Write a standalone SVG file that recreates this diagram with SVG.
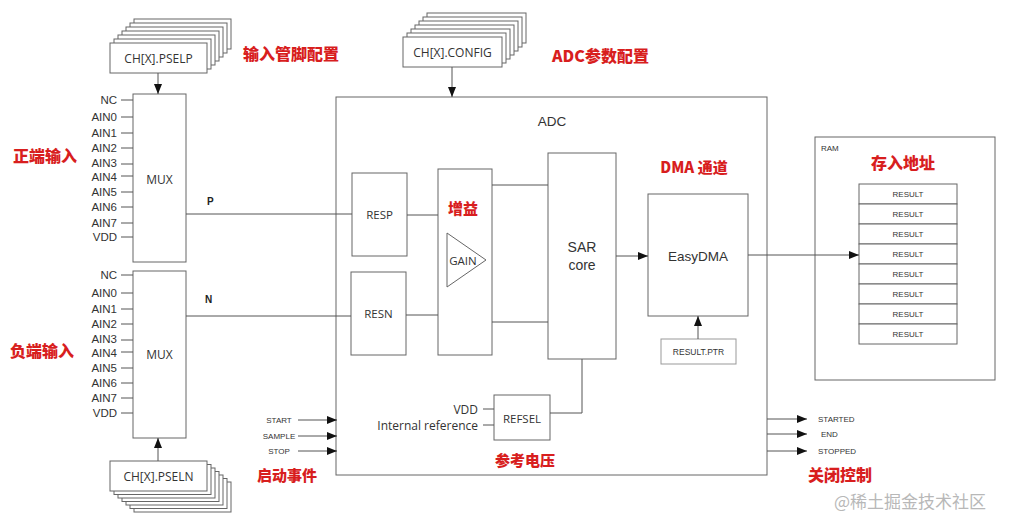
<svg xmlns="http://www.w3.org/2000/svg" width="1012" height="528" viewBox="0 0 1012 528">
<style>
  .bx{fill:#fff;stroke:#666;stroke-width:1}
  .ln{fill:none;stroke:#555;stroke-width:1}
  .ar{fill:none;stroke:#555;stroke-width:1;marker-end:url(#ah)}
  .t{font-family:"Open Sans","Liberation Sans",sans-serif;fill:#333;dominant-baseline:central}
  .s{font-family:"Liberation Sans",Arial,sans-serif;fill:#333;dominant-baseline:central}
  .r{font-family:"Noto Sans CJK SC","Liberation Sans",sans-serif;fill:#d81e1e;font-weight:900;font-size:16px;dominant-baseline:central}
  .pin{font-family:"Liberation Sans",Arial,sans-serif;fill:#333;dominant-baseline:central;font-size:11.5px;text-anchor:end}
  .res{font-size:8px;text-anchor:middle}
  .ev{font-size:8px}
</style>
<defs>
  <marker id="ah" markerUnits="userSpaceOnUse" markerWidth="11" markerHeight="9" refX="10" refY="4" orient="auto">
    <path d="M0,0 L10,4 L0,8 z" fill="#111"/>
  </marker>
</defs>
<rect width="1012" height="528" fill="#fff"/>

<!-- CH[X].PSELP stack -->
<g id="pselp">
  <rect class="bx" x="134" y="19" width="97" height="30"/>
  <rect class="bx" x="130" y="23" width="97" height="30"/>
  <rect class="bx" x="126" y="27" width="97" height="30"/>
  <rect class="bx" x="122" y="31" width="97" height="30"/>
  <rect class="bx" x="118" y="35" width="97" height="30"/>
  <rect class="bx" x="114" y="39" width="97" height="30"/>
  <rect class="bx" x="110" y="43" width="97" height="30"/>
  <text class="t" x="158.5" y="58" font-size="12" text-anchor="middle">CH[X].PSELP</text>
</g>
<text class="r" x="243" y="53">输入管脚配置</text>

<!-- CH[X].CONFIG stack -->
<g id="config">
  <rect class="bx" x="427" y="13" width="99" height="30"/>
  <rect class="bx" x="423" y="17" width="99" height="30"/>
  <rect class="bx" x="419" y="21" width="99" height="30"/>
  <rect class="bx" x="415" y="25" width="99" height="30"/>
  <rect class="bx" x="411" y="29" width="99" height="30"/>
  <rect class="bx" x="407" y="33" width="99" height="30"/>
  <rect class="bx" x="403" y="37" width="99" height="30"/>
  <text class="t" x="452.5" y="52" font-size="12" text-anchor="middle">CH[X].CONFIG</text>
</g>
<text class="r" x="552" y="55">ADC参数配置</text>

<!-- MUX P -->
<g id="muxp">
  <rect class="bx" x="133" y="94" width="53" height="168"/>
  <text class="t" x="159.5" y="179" font-size="12" text-anchor="middle">MUX</text>
  <g class="ln">
    <path d="M121,100H133M121,117H133M121,133H133M121,148H133M121,164H133M121,176H133M121,192H133M121,207H133M121,223H133M121,237H133"/>
  </g>
  <g class="pin">
    <text x="117" y="100">NC</text>
    <text x="117" y="117">AIN0</text>
    <text x="117" y="133">AIN1</text>
    <text x="117" y="148">AIN2</text>
    <text x="117" y="163">AIN3</text>
    <text x="117" y="177">AIN4</text>
    <text x="117" y="192">AIN5</text>
    <text x="117" y="207">AIN6</text>
    <text x="117" y="223">AIN7</text>
    <text x="117" y="237">VDD</text>
  </g>
</g>
<text class="r" x="13" y="155">正端输入</text>

<!-- MUX N -->
<g id="muxn">
  <rect class="bx" x="133" y="271" width="53" height="167"/>
  <text class="t" x="159.5" y="354" font-size="12" text-anchor="middle">MUX</text>
  <g class="ln">
    <path d="M121,275H133M121,293H133M121,309H133M121,324H133M121,340H133M121,352H133M121,368H133M121,383H133M121,398H133M121,413H133"/>
  </g>
  <g class="pin">
    <text x="117" y="275">NC</text>
    <text x="117" y="293">AIN0</text>
    <text x="117" y="309">AIN1</text>
    <text x="117" y="324">AIN2</text>
    <text x="117" y="339">AIN3</text>
    <text x="117" y="353">AIN4</text>
    <text x="117" y="368">AIN5</text>
    <text x="117" y="383">AIN6</text>
    <text x="117" y="398">AIN7</text>
    <text x="117" y="413">VDD</text>
  </g>
</g>
<text class="r" x="10" y="350">负端输入</text>

<!-- CH[X].PSELN stack -->
<g id="pseln">
  <rect class="bx" x="134" y="482" width="97" height="30"/>
  <rect class="bx" x="130" y="478.5" width="97" height="30"/>
  <rect class="bx" x="126" y="475" width="97" height="30"/>
  <rect class="bx" x="122" y="471.5" width="97" height="30"/>
  <rect class="bx" x="118" y="468" width="97" height="30"/>
  <rect class="bx" x="114" y="464.5" width="97" height="30"/>
  <rect class="bx" x="110" y="461" width="97" height="30"/>
  <text class="t" x="158.5" y="476" font-size="12" text-anchor="middle">CH[X].PSELN</text>
</g>

<!-- ADC -->
<g id="adc">
  <rect class="bx" x="336" y="97" width="431" height="378"/>
  <text class="s" x="552" y="121" font-size="13.5" text-anchor="middle">ADC</text>
</g>
<g id="resp">
  <rect class="bx" x="352" y="173" width="55" height="83"/>
  <text class="t" x="379.5" y="214" font-size="11.5" text-anchor="middle">RESP</text>
</g>
<g id="resn">
  <rect class="bx" x="351" y="272" width="55" height="83"/>
  <text class="t" x="378.5" y="313" font-size="11.5" text-anchor="middle">RESN</text>
</g>
<g id="gain">
  <rect class="bx" x="438" y="169" width="54" height="186"/>
  <text class="r" x="463" y="207" text-anchor="middle" style="font-size:15px">增益</text>
  <path d="M447,233 L486,260 L447,287 z" fill="#fff" stroke="#666"/>
  <text class="t" x="463" y="260" font-size="11.5" text-anchor="middle">GAIN</text>
</g>
<g id="sar">
  <rect class="bx" x="548" y="153" width="68" height="206"/>
  <text class="s" x="582" y="247" font-size="14" text-anchor="middle">SAR</text>
  <text class="s" x="582" y="265" font-size="14" text-anchor="middle">core</text>
</g>
<text class="r" x="694" y="166" text-anchor="middle" style="font-size:15px">DMA 通道</text>
<g id="easydma">
  <rect class="bx" x="648" y="194" width="100" height="122"/>
  <text class="s" x="698" y="256" font-size="13.5" text-anchor="middle">EasyDMA</text>
</g>
<g id="resultptr">
  <rect x="661" y="339" width="75" height="25" fill="#fff" stroke="#999"/>
  <text class="s" x="698.5" y="352" font-size="8.5" text-anchor="middle">RESULT.PTR</text>
</g>
<g id="refsel">
  <rect class="bx" x="494" y="395" width="56" height="45"/>
  <text class="t" x="522" y="418" font-size="11.5" text-anchor="middle">REFSEL</text>
  <text class="t" x="478" y="409" font-size="12" text-anchor="end">VDD</text>
  <text class="t" x="478" y="425" font-size="12" text-anchor="end">Internal reference</text>
</g>
<text class="r" x="525" y="459" text-anchor="middle" style="font-size:15px">参考电压</text>

<!-- RAM -->
<g id="ram">
  <rect class="bx" x="815" y="137" width="180" height="243"/>
  <text class="s" x="821" y="148" font-size="8">RAM</text>
  <rect class="bx" x="859" y="184" width="98" height="20"/>
  <rect class="bx" x="859" y="204" width="98" height="20"/>
  <rect class="bx" x="859" y="224" width="98" height="20"/>
  <rect class="bx" x="859" y="244" width="98" height="20"/>
  <rect class="bx" x="859" y="264" width="98" height="20"/>
  <rect class="bx" x="859" y="284" width="98" height="20"/>
  <rect class="bx" x="859" y="304" width="98" height="20"/>
  <rect class="bx" x="859" y="324" width="98" height="20"/>
  <g class="s res">
    <text x="908" y="194">RESULT</text>
    <text x="908" y="214">RESULT</text>
    <text x="908" y="234">RESULT</text>
    <text x="908" y="254">RESULT</text>
    <text x="908" y="274">RESULT</text>
    <text x="908" y="294">RESULT</text>
    <text x="908" y="314">RESULT</text>
    <text x="908" y="334">RESULT</text>
  </g>
</g>
<text class="r" x="903" y="162" text-anchor="middle">存入地址</text>

<!-- events -->
<g id="events-in" class="s ev" text-anchor="middle">
  <text x="279" y="420">START</text>
  <text x="279" y="436">SAMPLE</text>
  <text x="279" y="451">STOP</text>
</g>
<text class="r" x="257" y="474" style="font-size:15px">启动事件</text>
<g id="events-out" class="s ev">
  <text x="818" y="419">STARTED</text>
  <text x="821" y="434">END</text>
  <text x="818" y="451">STOPPED</text>
</g>
<text class="r" x="808" y="474">关闭控制</text>

<!-- connectors -->
<g id="connectors">
  <path class="ar" d="M158,73V94"/>
  <path class="ar" d="M452,67V97"/>
  <path class="ar" d="M158,461V438"/>
  <path class="ln" d="M186,214H352"/>
  <path class="ln" d="M186,316H351"/>
  <path class="ln" d="M407,215H438"/>
  <path class="ln" d="M406,315H438"/>
  <path class="ln" d="M492,185H548"/>
  <path class="ln" d="M492,322H548"/>
  <path class="ar" d="M616,256H648"/>
  <path class="ar" d="M748,255H859"/>
  <path class="ar" d="M698,339V316"/>
  <path class="ln" d="M550,413H582V359"/>
  <path class="ln" d="M483,409H494M483,425H494"/>
  <path class="ar" d="M298,420H337"/>
  <path class="ar" d="M298,436H337"/>
  <path class="ar" d="M298,451H337"/>
  <path class="ar" d="M767,419H807"/>
  <path class="ar" d="M767,434H807"/>
  <path class="ar" d="M767,451H807"/>
  <text x="207" y="201" font-family="Liberation Sans,Arial,sans-serif" font-size="10" font-weight="700" fill="#222" dominant-baseline="central">P</text>
  <text x="205" y="299" font-family="Liberation Sans,Arial,sans-serif" font-size="10" font-weight="700" fill="#222" dominant-baseline="central">N</text>
</g>

<text x="834" y="500" font-family="Noto Sans CJK SC,Liberation Sans,sans-serif" font-size="17" fill="#b8b8b8" dominant-baseline="central">@稀土掘金技术社区</text>
</svg>
